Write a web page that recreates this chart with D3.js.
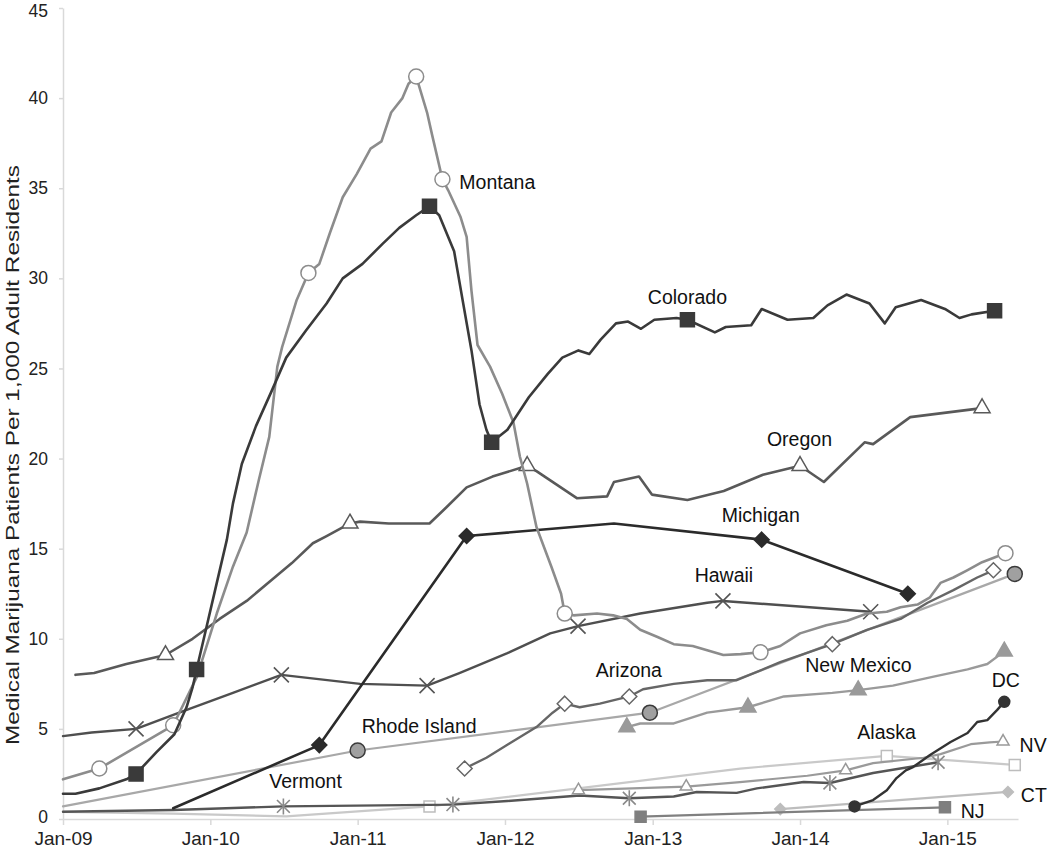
<!DOCTYPE html>
<html>
<head>
<meta charset="utf-8">
<script src="https://cdn.jsdelivr.net/npm/d3@7"></script>
<style>
  html, body { margin: 0; padding: 0; background: #fff; }
  svg { display: block; font-family: "Liberation Sans", Arial, Helvetica, sans-serif; }
</style>
</head>
<body>
<svg id="chart" width="1050" height="854"></svg>
<script>
// ---------------- DATA (date, value, marker flag) ----------------
const yTickValues = [0, 5, 10, 15, 20, 25, 30, 35, 40, 45];
const xTickDates = ["2009-01-01","2010-01-01","2011-01-01","2012-01-01","2013-01-01","2014-01-01","2015-01-01"];
const xTickLabels = ["Jan-09","Jan-10","Jan-11","Jan-12","Jan-13","Jan-14","Jan-15"];
const yAxisTitle = "Medical Marijuana Patients Per 1,000 Adult Residents";

const montana = [["2009-01-01",2.2],["2009-04-01",2.8,1],["2009-10-01",5.2,1],["2009-11-29",7.9],["2010-01-17",11.4],["2010-02-26",14.0],["2010-04-01",15.9],["2010-05-01",18.8],["2010-05-27",21.2],["2010-06-16",25.1],["2010-06-28",26.2],["2010-08-03",28.8],["2010-09-01",30.3,1],["2010-09-28",30.8],["2010-10-24",32.5],["2010-11-25",34.5],["2010-12-30",35.8],["2011-02-02",37.2],["2011-03-01",37.6],["2011-03-25",39.2],["2011-04-22",40.0],["2011-05-07",40.8],["2011-05-26",41.2,1],["2011-06-22",39.2],["2011-07-04",38.0],["2011-07-30",35.5,1],["2011-08-13",34.9],["2011-09-13",33.4],["2011-09-28",32.3],["2011-10-10",29.3],["2011-10-25",26.3],["2011-11-25",25.1],["2011-12-25",23.6],["2012-01-22",22.0],["2012-02-07",20.1],["2012-02-25",18.6],["2012-03-19",16.2],["2012-04-25",14.0],["2012-05-19",12.5],["2012-05-28",11.4,1],["2012-06-19",11.3],["2012-08-16",11.4],["2012-09-25",11.3],["2012-10-29",11.1],["2012-12-01",10.5],["2013-01-13",10.1],["2013-02-22",9.7],["2013-04-10",9.6],["2013-06-25",9.1],["2013-08-07",9.15],["2013-09-25",9.25,1],["2013-11-13",9.6],["2014-01-01",10.3],["2014-03-07",10.75],["2014-04-28",11.0],["2014-06-16",11.4],["2014-08-04",11.5],["2014-09-07",11.75],["2014-10-19",11.9],["2014-11-19",12.3],["2014-12-15",13.1],["2015-01-16",13.4],["2015-02-19",13.8],["2015-03-28",14.25],["2015-05-25",14.75,1]];

const colorado = [["2009-01-01",1.4],["2009-02-01",1.4],["2009-04-01",1.7],["2009-06-07",2.2],["2009-07-01",2.5,1],["2009-08-20",3.7],["2009-10-04",4.7],["2009-11-03",6.2],["2009-11-18",7.3],["2009-11-28",8.3,1],["2009-12-22",10.6],["2010-01-17",13.1],["2010-02-11",15.5],["2010-02-26",17.5],["2010-03-20",19.7],["2010-04-24",21.8],["2010-06-01",23.7],["2010-07-08",25.6],["2010-08-26",27.1],["2010-10-16",28.6],["2010-11-25",30.0],["2011-01-13",30.8],["2011-03-03",31.9],["2011-04-14",32.8],["2011-05-26",33.5],["2011-06-28",34.0,1],["2011-07-22",33.5],["2011-08-28",31.5],["2011-09-18",28.8],["2011-10-10",26.0],["2011-10-30",23.0],["2011-11-16",21.6],["2011-11-29",20.9,1],["2012-01-07",21.6],["2012-02-29",23.4],["2012-04-16",24.7],["2012-05-22",25.6],["2012-07-01",26.0],["2012-07-28",25.8],["2012-08-25",26.6],["2012-10-02",27.5],["2012-11-01",27.6],["2012-12-03",27.2],["2013-01-05",27.7],["2013-03-01",27.8],["2013-03-28",27.7,1],["2013-06-04",27.0],["2013-07-01",27.3],["2013-09-02",27.4],["2013-09-28",28.3],["2013-12-01",27.7],["2014-02-03",27.8],["2014-03-10",28.5],["2014-04-26",29.1],["2014-06-22",28.6],["2014-07-30",27.5],["2014-08-26",28.4],["2014-10-28",28.8],["2014-12-26",28.3],["2015-01-31",27.8],["2015-03-02",28.0],["2015-04-28",28.2,1]];

const oregon = [["2009-02-01",8.0],["2009-03-19",8.1],["2009-06-07",8.6],["2009-09-12",9.1,1],["2009-11-18",10.0],["2010-01-24",11.1],["2010-04-01",12.1],["2010-06-04",13.3],["2010-07-22",14.2],["2010-09-12",15.3],["2010-10-16",15.7],["2010-12-13",16.4,1],["2011-01-07",16.5],["2011-03-19",16.4],["2011-06-28",16.4],["2011-08-09",17.3],["2011-09-28",18.4],["2011-12-01",19.0],["2012-02-25",19.6,1],["2012-03-19",19.3],["2012-06-27",17.8],["2012-09-10",17.9],["2012-09-27",18.7],["2012-11-28",19.0],["2012-12-30",18.0],["2013-03-28",17.7],["2013-06-26",18.2],["2013-10-01",19.1],["2014-01-01",19.6,1],["2014-03-01",18.7],["2014-06-10",20.9],["2014-07-01",20.8],["2014-10-01",22.3],["2015-03-28",22.8,1]];

const michigan = [["2009-10-01",0.6],["2010-09-28",4.1,1],["2011-09-28",15.7,1],["2012-09-27",16.4],["2013-09-28",15.5,1],["2014-09-25",12.5,1]];

const hawaii = [["2009-01-01",4.6],["2009-03-13",4.8],["2009-07-01",5.0,1],["2009-10-16",5.9],["2010-02-26",7.0],["2010-06-26",8.0,1],["2011-01-07",7.5],["2011-06-22",7.4,1],["2011-09-10",8.1],["2012-01-07",9.2],["2012-04-22",10.3],["2012-06-30",10.7,1],["2012-12-01",11.4],["2013-05-16",12.0],["2013-06-24",12.1,1],["2014-06-25",11.5,1]];

const rhodeIsland = [["2009-01-01",0.7],["2011-01-01",3.8,1],["2012-12-25",5.9,1],["2015-06-17",13.6,1]];

const arizona = [["2011-09-23",2.8,1],["2011-11-16",3.4],["2012-01-13",4.2],["2012-03-19",5.1],["2012-04-28",5.9],["2012-05-28",6.4,1],["2012-07-04",6.2],["2012-08-23",6.4],["2012-11-04",6.8,1],["2012-12-08",7.2],["2013-02-22",7.5],["2013-05-16",7.7],["2013-07-28",7.7],["2013-11-13",8.7],["2014-03-22",9.7,1],["2014-06-16",10.5],["2014-09-07",11.1],["2014-11-13",12.0],["2015-01-16",12.7],["2015-03-16",13.4],["2015-04-25",13.8,1]];

const newMexico = [["2012-10-29",5.1,1],["2012-12-01",5.3],["2013-02-22",5.3],["2013-05-16",5.9],["2013-08-25",6.2,1],["2013-11-22",6.8],["2014-03-22",7.0],["2014-05-25",7.15,1],["2014-08-19",7.4],["2014-11-28",7.9],["2015-02-20",8.3],["2015-04-10",8.6],["2015-05-22",9.3,1]];

const vermont = [["2009-01-01",0.4],["2009-10-01",0.5],["2010-07-01",0.7,1],["2011-08-25",0.8,1],["2012-01-07",1.0],["2012-07-04",1.3],["2012-11-04",1.15,1],["2013-02-22",1.25],["2013-04-20",1.5],["2013-07-28",1.45],["2013-09-16",1.7],["2014-01-10",2.05],["2014-03-16",2.0,1],["2014-07-01",2.55],["2014-12-09",3.15,1]];

const alaska = [["2009-01-01",0.4],["2009-10-01",0.3],["2010-07-08",0.15],["2011-06-28",0.7,1],["2013-08-06",2.8],["2014-08-04",3.5,1],["2015-06-17",3.0,1]];

const nevada = [["2012-07-01",1.6,1],["2013-03-25",1.8,1],["2013-08-05",2.05],["2014-01-19",2.4],["2014-04-24",2.7,1],["2014-07-01",3.1],["2014-11-03",3.4],["2014-12-15",3.6],["2015-02-28",4.15],["2015-04-16",4.25],["2015-05-19",4.3,1]];

const dc = [["2014-05-16",0.7,1],["2014-07-01",1.05],["2014-08-04",1.6],["2014-08-28",2.27],["2014-09-20",2.7],["2014-10-08",2.88],["2014-11-19",3.55],["2015-01-09",4.27],["2015-02-20",4.77],["2015-03-16",5.38],["2015-04-10",5.49],["2015-05-04",6.04],["2015-05-22",6.5,1]];

const connecticut = [["2013-11-13",0.55,1],["2015-05-31",1.5,1]];

const newJersey = [["2012-12-02",0.13,1],["2014-12-26",0.65,1]];

// label anchors (left edge date, baseline value)
const labels = [
  ["Montana","2011-09-10",34.98],["Colorado","2012-12-20",28.6],["Oregon","2013-10-11",20.68],
  ["Michigan","2013-06-21",16.46],["Hawaii","2013-04-15",13.14],["Arizona","2012-08-13",7.87],
  ["New Mexico","2014-01-14",8.15],["DC","2015-04-21",7.34],["Rhode Island","2011-01-11",4.77],
  ["Alaska","2014-05-23",4.43],["NV","2015-06-29",3.74],["Vermont","2010-05-27",1.72],
  ["CT","2015-07-02",0.94],["NJ","2015-02-03",0.055]
];

// ---------------- STYLES ----------------
const series = [
  {data: alaska,      color:"#c9c9c9", w:2.2, m:"square",   ms:11, fill:"#fff",    stroke:"#bdbdbd"},
  {data: connecticut, color:"#bdbdbd", w:2.2, m:"diamond",  ms:11, fill:"#bdbdbd", stroke:"#bdbdbd"},
  {data: newJersey,   color:"#808080", w:2.2, m:"square",   ms:11, fill:"#7f7f7f", stroke:"#7f7f7f"},
  {data: vermont,     color:"#555555", w:2.4, m:"asterisk", ms:16, fill:"none",    stroke:"#8a8a8a"},
  {data: nevada,      color:"#9a9a9a", w:2.2, m:"triangle", ms:12, fill:"#fff",    stroke:"#999"},
  {data: rhodeIsland, color:"#a8a8a8", w:2.2, m:"circle",   ms:15, fill:"#a0a0a0", stroke:"#3a3a3a"},
  {data: newMexico,   color:"#9a9a9a", w:2.4, m:"triangle", ms:16, fill:"#9a9a9a", stroke:"#9a9a9a"},
  {data: arizona,     color:"#666666", w:2.4, m:"diamond",  ms:15, fill:"#fff",    stroke:"#666"},
  {data: hawaii,      color:"#4f4f4f", w:2.4, m:"x",        ms:15, fill:"none",    stroke:"#555"},
  {data: dc,          color:"#333333", w:2.4, m:"circle",   ms:11, fill:"#333",    stroke:"#333"},
  {data: oregon,      color:"#595959", w:2.6, m:"triangle", ms:16, fill:"#fff",    stroke:"#595959"},
  {data: michigan,    color:"#2b2b2b", w:2.6, m:"diamond",  ms:15, fill:"#2b2b2b", stroke:"#2b2b2b"},
  {data: montana,     color:"#8c8c8c", w:2.6, m:"circle",   ms:15, fill:"#fff",    stroke:"#8c8c8c"},
  {data: colorado,    color:"#3a3a3a", w:2.6, m:"square",   ms:14, fill:"#3a3a3a", stroke:"#3a3a3a"}
];

// ---------------- CHART ----------------
const W = 1050, H = 854;
const margin = {top: 8, right: 32, bottom: 35, left: 63};
const parse = d3.timeParse("%Y-%m-%d");
const svg = d3.select("#chart");

const x = d3.scaleTime()
  .domain([parse("2009-01-01"), parse("2015-06-25")])
  .range([margin.left, W - margin.right]);
const y = d3.scaleLinear().domain([0, 45]).range([H - margin.bottom, margin.top]);

const font = "'Liberation Sans', Arial, Helvetica, sans-serif";

// Y axis
const gy = svg.append("g")
  .attr("transform", `translate(${margin.left},0)`)
  .call(d3.axisLeft(y).tickValues(yTickValues).tickSize(4).tickSizeOuter(0).tickPadding(11));
gy.select(".domain").attr("stroke", "#d9d9d9").attr("stroke-width", 1.5);
gy.selectAll(".tick line").attr("stroke", "#d9d9d9").attr("stroke-width", 1.5);
gy.selectAll(".tick text").attr("font-size", 17.5).attr("font-family", font).attr("fill", "#222")
  .attr("dy", d => d === 45 ? "0.5em" : (d === 0 ? "0.2em" : "0.32em"));

// X axis
const xTicks = xTickDates.map(parse);
const gx = svg.append("g")
  .attr("transform", `translate(0,${H - margin.bottom})`)
  .call(d3.axisBottom(x).tickValues(xTicks).tickSize(6).tickSizeOuter(0).tickPadding(7)
    .tickFormat((d, i) => xTickLabels[i]));
gx.select(".domain").attr("stroke", "#d9d9d9").attr("stroke-width", 1.5);
gx.selectAll(".tick line").attr("stroke", "#d9d9d9").attr("stroke-width", 1.5);
gx.selectAll(".tick text").attr("font-size", 19).attr("font-family", font).attr("fill", "#222");

// Y axis title
svg.append("text")
  .attr("transform", `translate(19,455) rotate(-90)`)
  .attr("text-anchor", "middle")
  .attr("font-size", 18.5)
  .attr("font-family", font)
  .attr("fill", "#222")
  .attr("textLength", 580)
  .attr("lengthAdjust", "spacingAndGlyphs")
  .text(yAxisTitle);

// markers
function markerPath(type, s) {
  const h = s / 2;
  if (type === "square") return `M${-h},${-h}H${h}V${h}H${-h}Z`;
  if (type === "diamond") return `M0,${-h}L${h},0L0,${h}L${-h},0Z`;
  if (type === "triangle") {
    const th = s * 0.866;
    return `M0,${-th * 2 / 3}L${h},${th / 3}L${-h},${th / 3}Z`;
  }
  if (type === "x") return `M${-h},${-h}L${h},${h}M${-h},${h}L${h},${-h}`;
  if (type === "asterisk") {
    const k = h * 0.8;
    return `M${-k},${-k}L${k},${k}M${-k},${k}L${k},${-k}M0,${-h}L0,${h}`;
  }
  return "";
}

const line = d3.line().x(d => x(parse(d[0]))).y(d => y(d[1]));

series.forEach(s => {
  svg.append("path")
    .datum(s.data)
    .attr("fill", "none")
    .attr("stroke", s.color)
    .attr("stroke-width", s.w)
    .attr("stroke-linejoin", "round")
    .attr("stroke-linecap", "round")
    .attr("d", line);
  const pts = s.data.filter(d => d[2]);
  const g = svg.append("g");
  if (s.m === "circle") {
    g.selectAll("circle").data(pts).join("circle")
      .attr("cx", d => x(parse(d[0]))).attr("cy", d => y(d[1]))
      .attr("r", s.ms / 2)
      .attr("fill", s.fill).attr("stroke", s.stroke).attr("stroke-width", 1.5);
  } else {
    g.selectAll("path").data(pts).join("path")
      .attr("transform", d => `translate(${x(parse(d[0]))},${y(d[1])})`)
      .attr("d", markerPath(s.m, s.ms))
      .attr("fill", s.fill).attr("stroke", s.stroke)
      .attr("stroke-width", (s.m === "x" || s.m === "asterisk") ? 1.6 : 1.5);
  }
});

// labels
svg.append("g").selectAll("text").data(labels).join("text")
  .attr("x", d => x(parse(d[1])))
  .attr("y", d => y(d[2]))
  .attr("font-size", 19.5)
  .attr("font-family", font)
  .attr("fill", "#111")
  .text(d => d[0]);
</script>
</body>
</html>
